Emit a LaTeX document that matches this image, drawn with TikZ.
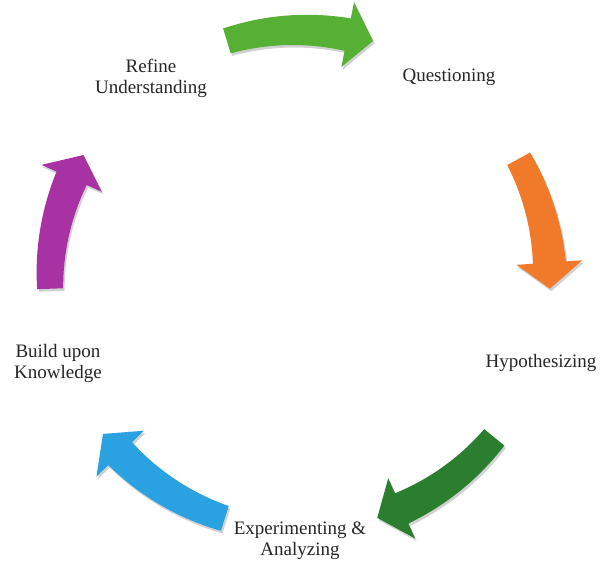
\documentclass[tikz,border=0pt]{standalone}
\usepackage{fontspec}
\setmainfont{Liberation Serif}
\definecolor{cgreen}{RGB}{86,176,52}
\definecolor{corange}{RGB}{240,122,42}
\definecolor{cdgreen}{RGB}{42,126,46}
\definecolor{cblue}{RGB}{42,162,226}
\definecolor{cpurple}{RGB}{168,50,164}
\newcommand\cycarrow[4]{% start, head base, tip, colour
  \fill[black, opacity=.18, shift={(1.5,-2.5)}]
    plot[domain=#1:#2,samples=40] (\x:{250+13+3.5*(\x-#1)/(#2-#1)})
    -- (#2:283) -- (#3:250) -- (#2:217)
    -- plot[domain=#2:#1,samples=40] (\x:{250-13-3.5*(\x-#1)/(#2-#1)}) -- cycle;
  \fill[#4]
    plot[domain=#1:#2,samples=40] (\x:{250+13+3.5*(\x-#1)/(#2-#1)})
    -- (#2:283) -- (#3:250) -- (#2:217)
    -- plot[domain=#2:#1,samples=40] (\x:{250-13-3.5*(\x-#1)/(#2-#1)}) -- cycle;
}
\tikzset{lbl/.style={align=center, font=\fontsize{19}{21}\selectfont, inner sep=0pt, text=black!85}}
\begin{document}
\begin{tikzpicture}[x=1pt,y=1pt]
\useasboundingbox (0,0) rectangle (600,-562);
\fill[white] (0,0) rectangle (600,-562);
\begin{scope}[shift={(300,-280)}]
  \cycarrow{107}{79}{73}{cgreen}
  \cycarrow{29}{4}{-2}{corange}
  \cycarrow{-39}{-66}{-72}{cdgreen}
  \cycarrow{-107.5}{-136}{-142}{cblue}
  \cycarrow{182}{156}{150}{cpurple}
\end{scope}
\node[lbl] (refine) at (151,-78) {Refine\\Understanding};
\node[lbl] (quest) at (449,-77) {Questioning};
\node[lbl] (hypo) at (541,-363) {Hypothesizing};
\node[lbl] (exp) at (300,-541) {Experimenting \&\\Analyzing};
\node[lbl] (build) at (58,-363) {Build upon\\Knowledge};
\end{tikzpicture}
\end{document}
